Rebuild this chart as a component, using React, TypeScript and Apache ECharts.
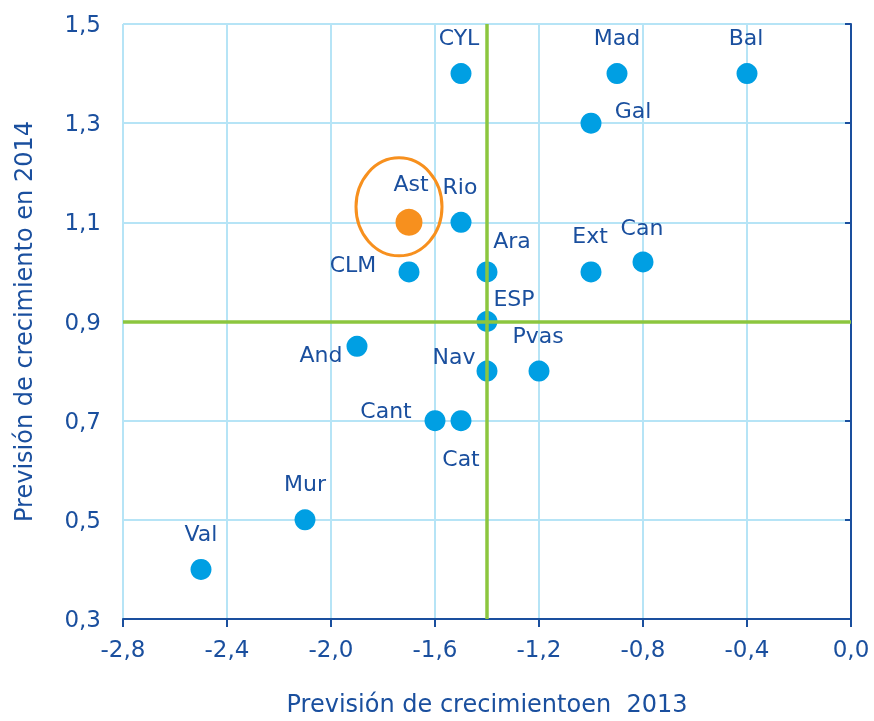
import React, { useEffect, useRef } from "react";
import * as echarts from "echarts";

// ---- data ----
const regions = ["CYL", "Mad", "Bal", "Gal", "Ast", "Rio", "Ara", "Ext", "Can", "CLM", "ESP", "And", "Nav", "Pvas", "Cant", "Cat", "Mur", "Val"];
const growth2013 = [-1.5, -0.9, -0.4, -1.0, -1.7, -1.5, -1.4, -1.0, -0.8, -1.7, -1.4, -1.9, -1.4, -1.2, -1.6, -1.5, -2.1, -2.5];
const growth2014 = [1.4, 1.4, 1.4, 1.3, 1.1, 1.1, 1.0, 1.0, 1.02, 1.0, 0.9, 0.85, 0.8, 0.8, 0.7, 0.7, 0.5, 0.4];
const highlighted = "Ast";
const refLine2013 = -1.4;
const refLine2014 = 0.9;
const xMin = -2.8, xMax = 0.0, xStep = 0.4;
const yMin = 0.3, yMax = 1.5, yStep = 0.2;
const xTitle = "Previsión de crecimientoen  2013";
const yTitle = "Previsión de crecimiento en 2014";

// ---- label placement (style) ----
const labelOffsets: Record<string, [number, number]> = {
  CYL: [-2, -36], Mad: [0, -36], Bal: [-1, -36], Gal: [42, -13], Ast: [2, -39],
  Rio: [-1, -36], Ara: [25, -31], Ext: [-1, -36], Can: [-1, -35], CLM: [-56, -7],
  ESP: [27, -23], And: [-36, 8], Nav: [-33, -15], Pvas: [-1, -36], Cant: [-49, -10],
  Cat: [0, 38], Mur: [0, -36], Val: [0, -36],
};

const DARK = "#1a4f9e";
const GRIDC = "#b6e4f6";
const BLUE = "#009fe3";
const ORANGE = "#f7901e";
const GREEN = "#8cc63f";
const FONT = "DejaVu Sans";

const fmt = (v: number) => v.toFixed(1).replace(".", ",");

export default function App() {
  const ref = useRef<HTMLDivElement>(null);
  useEffect(() => {
    if (!ref.current) return;
    const chart = echarts.init(ref.current, null, { renderer: "svg" });
    const data = regions.map((name, i) => {
      const isH = name === highlighted;
      return {
        name,
        value: [growth2013[i], growth2014[i] - yMin],
        symbolSize: isH ? 27 : 21,
        itemStyle: { color: isH ? ORANGE : BLUE, opacity: 1 },
        label: {
          show: true,
          position: "inside",
          offset: labelOffsets[name] || [0, -36],
          formatter: name,
          color: DARK,
          fontSize: 22,
          fontFamily: FONT,
        },
      };
    });
    chart.setOption({
      animation: false,
      grid: { left: 123, right: 23, top: 24, bottom: 99, containLabel: false },
      xAxis: {
        type: "value",
        min: xMin,
        max: xMax,
        interval: xStep,
        name: xTitle,
        nameLocation: "middle",
        nameGap: 73,
        nameTextStyle: { color: DARK, fontSize: 24, fontFamily: FONT },
        axisLine: { show: true, onZero: false, lineStyle: { color: DARK, width: 2 } },
        axisTick: { show: true, inside: false, length: 8, lineStyle: { color: DARK, width: 2 } },
        axisLabel: { color: DARK, fontSize: 23, fontFamily: FONT, margin: 18, formatter: (v: number) => fmt(v) },
        splitLine: { show: true, lineStyle: { color: GRIDC, width: 2 } },
      },
      yAxis: [
        {
          type: "value",
          min: 0,
          max: yMax - yMin,
          interval: yStep,
          position: "left",
          name: yTitle,
          nameLocation: "middle",
          nameGap: 87,
          nameTextStyle: { color: DARK, fontSize: 24, fontFamily: FONT },
          axisLine: { show: false },
          axisTick: { show: false },
          axisLabel: { color: DARK, fontSize: 23, fontFamily: FONT, margin: 22, formatter: (v: number) => fmt(v + yMin) },
          splitLine: { show: true, lineStyle: { color: GRIDC, width: 2 } },
        },
        {
          type: "value",
          min: 0,
          max: yMax - yMin,
          interval: yStep,
          position: "right",
          axisLine: { show: true, onZero: false, lineStyle: { color: DARK, width: 2 } },
          axisTick: { show: true, inside: true, length: 6, lineStyle: { color: DARK, width: 2 } },
          axisLabel: { show: false },
          splitLine: { show: false },
        },
      ],
      series: [
        {
          type: "scatter",
          data,
          z: 3,
          itemStyle: { opacity: 1 },
          markLine: {
            silent: true,
            symbol: ["none", "none"],
            label: { show: false },
            lineStyle: { color: GREEN, width: 3.5, type: "solid", opacity: 1 },
            data: [{ xAxis: refLine2013 }, { yAxis: refLine2014 - yMin }],
          },
        },
      ],
    });
    const hi = regions.indexOf(highlighted);
    const p = chart.convertToPixel({ gridIndex: 0 }, [growth2013[hi], growth2014[hi] - yMin]) as number[];
    chart.setOption({
      graphic: [
        {
          type: "ellipse",
          shape: { cx: p[0] - 10, cy: p[1] - 15.5, rx: 43, ry: 49 },
          style: { fill: "none", stroke: ORANGE, lineWidth: 3 },
          z: 10,
        },
      ],
    });
    return () => chart.dispose();
  }, []);
  return <div ref={ref} style={{ position: "fixed", left: 0, top: 0, width: 874, height: 721 }} />;
}
